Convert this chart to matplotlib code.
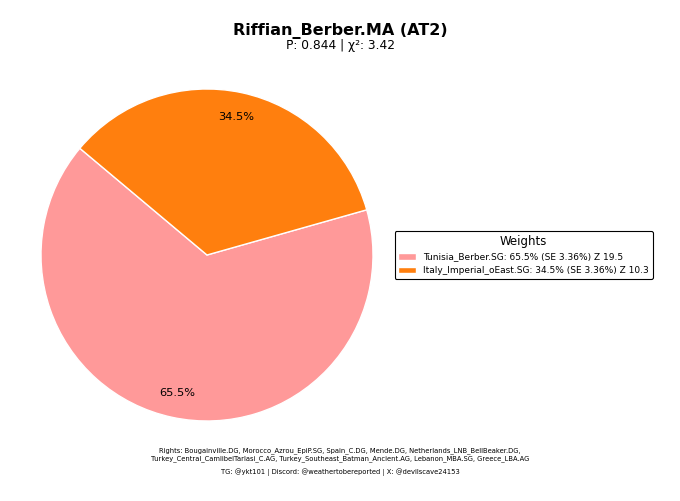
import matplotlib
matplotlib.use("Agg")
import matplotlib.pyplot as plt

sources = ["Tunisia_Berber.SG", "Italy_Imperial_oEast.SG"]
weights = [65.5, 34.5]
se = [3.36, 3.36]
zscores = [19.5, 10.3]
colors = ["#ff9999", "#ff7f0e"]
target = "Riffian_Berber.MA (AT2)"
pval = 0.844
chi2 = 3.42
rights = ("Rights: Bougainville.DG, Morocco_Azrou_EpiP.SG, Spain_C.DG, Mende.DG, Netherlands_LNB_BellBeaker.DG,\n"
          "Turkey_Central_CamlibelTarlasi_C.AG, Turkey_Southeast_Batman_Ancient.AG, Lebanon_MBA.SG, Greece_LBA.AG")
credits = "TG: @ykt101 | Discord: @weathertobereported | X: @devilscave24153"

fig = plt.figure(figsize=(6.8, 5.01), dpi=100)
ax = fig.add_axes([41/680, 1-421/501, 332/680, 332/501])
wedges, texts, autotexts = ax.pie(weights, colors=colors, startangle=140,
                                  autopct="%1.1f%%", pctdistance=0.85,
                                  wedgeprops=dict(edgecolor="white", linewidth=1),
                                  textprops=dict(fontsize=8.2))
ax.set_aspect("equal")
ax.set_xlim(-1.0, 1.0)
ax.set_ylim(-1.0, 1.0)
for w in wedges:
    w.set_clip_on(False)

labels = [f"{s}: {w}% (SE {e}%) Z {z}" for s, w, e, z in zip(sources, weights, se, zscores)]
leg = fig.legend(wedges, labels, title="Weights", loc="center left",
                 bbox_to_anchor=(390/680, 1-255/501), fontsize=6.5, title_fontsize=8.5,
                 framealpha=1, edgecolor="black", fancybox=True)
leg.get_frame().set_linewidth(0.8)

fig.text(340/680, 1-31/501, target, ha="center", va="center", fontsize=11.5, fontweight="bold")
fig.text(340/680, 1-46/501, f"P\u0304: {pval} | χ²: {chi2}", ha="center", va="center", fontsize=8.8)
fig.text(340/680, 1-455/501, rights, ha="center", va="center", fontsize=4.9, linespacing=1.3)
fig.text(340/680, 1-472/501, credits, ha="center", va="center", fontsize=4.9)

fig.savefig("out.png", dpi=100)
